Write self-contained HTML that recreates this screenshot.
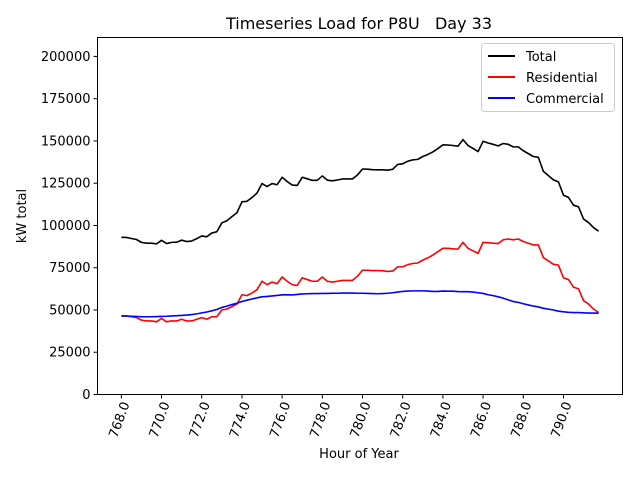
<!DOCTYPE html>
<html><head><meta charset="utf-8"><style>
body{margin:0;background:#fff}
svg text{font-family:"DejaVu Sans","Liberation Sans",sans-serif;fill:#000}
</style></head><body>
<svg id="chart" width="640" height="480" xmlns="http://www.w3.org/2000/svg">
<rect width="640" height="480" fill="#fff"/>
<text x="359" y="29" font-size="16" text-anchor="middle" xml:space="preserve">Timeseries Load for P8U   Day 33</text>
<g id="grid"></g>
<g id="series"></g>
<rect x="97.5" y="37.5" width="525" height="357" fill="none" stroke="#000" stroke-width="1"/>
<text x="359" y="458" font-size="13" text-anchor="middle">Hour of Year</text>
<text transform="translate(26,216) rotate(-90)" font-size="13" text-anchor="middle">kW total</text>
<g>
<rect x="481.5" y="43.5" width="133" height="68" rx="3" fill="#fff" fill-opacity="0.8" stroke="#ccc"/>
<line x1="488" y1="56" x2="515" y2="56" stroke="#000" stroke-width="2"/>
<text x="526" y="61" font-size="13">Total</text>
<line x1="488" y1="77" x2="515" y2="77" stroke="#f00" stroke-width="2"/>
<text x="526" y="82" font-size="13">Residential</text>
<line x1="488" y1="98" x2="515" y2="98" stroke="#00f" stroke-width="2"/>
<text x="526" y="103" font-size="13">Commercial</text>
</g>
</svg>
<script>
const xStart = 768;
const xStep = 0.25;
const residential = [46500,46500,46000,45500,44000,43500,43500,43000,45000,43000,43500,43500,44500,43500,43500,44500,
45500,44500,46000,46000,50000,50500,52000,53500,59000,58500,60000,62000,67000,65000,66500,65500,
69500,67000,65000,64500,69000,68000,67000,67000,69500,67000,66500,67000,67500,67500,67500,70000,
73500,73500,73300,73300,73200,72800,73000,75500,75500,76800,77500,77800,79500,80800,82500,84500,
86500,86500,86200,86000,90000,86500,85000,83500,90000,89800,89500,89300,91500,92000,91500,92000,
90500,89500,88500,88500,81000,79000,77000,76500,69000,68000,63500,62500,55500,53500,50500,48500];
const commercial = [46500,46400,46300,46200,46000,46000,46000,46100,46200,46300,46500,46600,46800,47000,47300,47700,
48300,48800,49500,50300,51500,52300,53200,54000,55000,55800,56500,57200,57800,58000,58300,58600,
59000,59000,58900,59200,59500,59600,59700,59700,59800,59800,59900,59900,60000,60000,60000,59900,
59900,59800,59700,59600,59700,59900,60200,60600,61000,61200,61300,61300,61300,61200,61000,61000,
61200,61100,61100,60900,60800,60800,60600,60200,59800,59000,58500,57800,57000,56000,55000,54500,
53700,53000,52300,51800,51000,50500,50000,49300,48900,48600,48500,48500,48300,48200,48200,48100];
const total = residential.map((r,i)=>r+commercial[i]);
const xTicks = [768,770,772,774,776,778,780,782,784,786,788,790];
const yTicks = [0,25000,50000,75000,100000,125000,150000,175000,200000];

const NS='http://www.w3.org/2000/svg';
const X0=97.5,X1=622.5,Y0=394.5,Y1=37.5;
const xMin=766.8125,xMax=792.9375,yMin=0,yMax=211200;
const sx=v=>X0+(v-xMin)/(xMax-xMin)*(X1-X0);
const sy=v=>Y0-(v-yMin)/(yMax-yMin)*(Y0-Y1);
const svg=document.getElementById('chart');
const g=document.getElementById('grid');
function mk(t,a){const e=document.createElementNS(NS,t);for(const k in a)e.setAttribute(k,a[k]);return e;}
xTicks.forEach(t=>{
  const x=sx(t);
  const l=mk('line',{x1:x,y1:Y0,x2:x,y2:Y0+4,stroke:'#000'});
  
  
  g.appendChild(l);
  const tx=mk('text',{transform:`translate(${x+5},${Y0+8}) rotate(-70)`,'font-size':'13','text-anchor':'end','dominant-baseline':'middle'});
  tx.textContent=t.toFixed(1);
  
  
  g.appendChild(tx);
});
yTicks.forEach(t=>{
  const y=sy(t);
  const l=mk('line',{x1:X0-4,y1:y,x2:X0,y2:y,stroke:'#000'});
  
  
  g.appendChild(l);
  const tx=mk('text',{x:X0-7,y:y+4.5,'font-size':'13','text-anchor':'end'});
  tx.textContent=String(t);
  
  
  g.appendChild(tx);
});
const s=document.getElementById('series');
[[total,'#000','total-line'],[residential,'#f00','residential-line'],[commercial,'#00f','commercial-line']].forEach(([d,c,n])=>{
  const pts=d.map((v,i)=>sx(xStart+i*xStep).toFixed(2)+','+sy(v).toFixed(2)).join(' ');
  const p=mk('polyline',{points:pts,fill:'none',stroke:c,'stroke-width':'1.6','stroke-linejoin':'round'});
  
  
  s.appendChild(p);
});
</script>
</body></html>
